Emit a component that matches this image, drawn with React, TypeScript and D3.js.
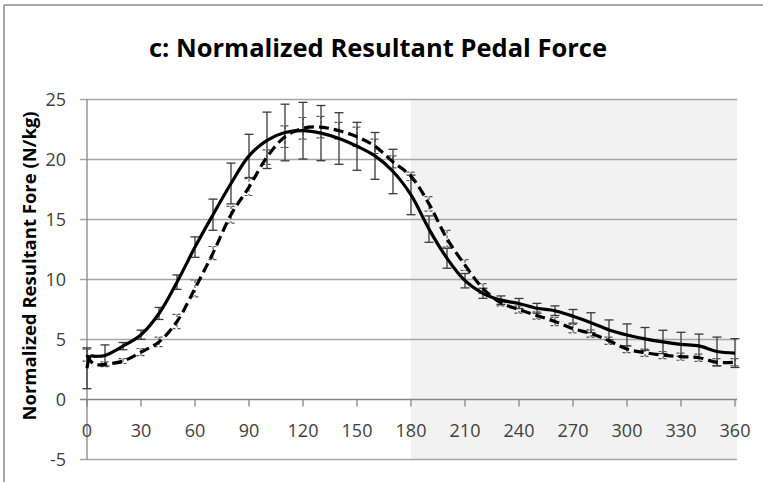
import React from "react";
import * as d3 from "d3";

const TITLE = "c: Normalized Resultant Pedal Force";
const Y_TITLE = "Normalized Resultant Fore (N/kg)";

// crank angle (deg) for line points
const angles = [0, 2, 5, 10, 20, 30, 40, 50, 60, 70, 80, 90, 100, 110, 120, 130, 140, 150, 160, 170, 180, 190, 200, 210, 220, 230, 240, 250, 260, 270, 280, 290, 300, 310, 320, 330, 340, 350, 360];
const solidMean = [2.6, 3.6, 3.6, 3.67, 4.45, 5.4, 7.17, 9.78, 12.7, 15.4, 18.0, 20.3, 21.6, 22.25, 22.4, 22.2, 21.75, 21.1, 20.3, 19.0, 17.05, 14.2, 11.77, 9.9, 8.85, 8.28, 8.0, 7.6, 7.4, 6.93, 6.4, 5.8, 5.38, 5.05, 4.8, 4.6, 4.47, 4.0, 3.87];
const dashedMean = [3.7, 3.2, 2.9, 2.94, 3.2, 3.95, 4.8, 6.5, 9.26, 12.2, 15.4, 17.7, 20.2, 21.9, 22.6, 22.7, 22.4, 21.9, 21.1, 19.8, 18.6, 16.3, 13.4, 11.2, 9.25, 8.05, 7.5, 7.0, 6.5, 5.9, 5.5, 4.9, 4.2, 3.9, 3.7, 3.57, 3.48, 3.1, 3.1];

// error bar angles and SDs
const barAngles = [0, 10, 20, 30, 40, 50, 60, 70, 80, 90, 100, 110, 120, 130, 140, 150, 160, 170, 180, 190, 200, 210, 220, 230, 240, 250, 260, 270, 280, 290, 300, 310, 320, 330, 340, 350, 360];
const solidSD = [1.7, 0.88, 0.3, 0.38, 0.5, 0.6, 0.85, 1.3, 1.7, 1.8, 2.35, 2.36, 2.36, 2.3, 2.15, 2.0, 1.95, 1.85, 1.65, 1.1, 0.83, 0.6, 0.42, 0.35, 0.42, 0.41, 0.4, 0.57, 0.83, 0.83, 0.92, 0.95, 0.97, 1.0, 0.98, 1.2, 1.2];
const dashedSD = [0.5, 0.2, 0.2, 0.3, 0.4, 0.6, 0.7, 0.55, 0.7, 0.7, 0.6, 0.9, 0.9, 0.9, 0.7, 0.8, 0.6, 0.5, 0.35, 0.6, 0.7, 0.45, 0.4, 0.25, 0.3, 0.3, 0.35, 0.35, 0.3, 0.3, 0.3, 0.3, 0.3, 0.3, 0.3, 0.3, 0.3];

const xTicks = [0, 30, 60, 90, 120, 150, 180, 210, 240, 270, 300, 330, 360];
const yTicks = [-5, 0, 5, 10, 15, 20, 25];
const shadeRange = [180, 360];

const W = 763;
const H = 482;
const FONT = "'Open Sans', 'Noto Sans', sans-serif";

export default function App() {
  const x = d3.scaleLinear().domain([0, 360]).range([87, 735]);
  const y = d3.scaleLinear().domain([-5, 25]).range([459.5, 99.5]);

  const line = d3
    .line<number>()
    .x((_, i) => x(angles[i]))
    .y((d) => y(d))
    .curve(d3.curveCatmullRom.alpha(0.5));

  const meanAt = (arr: number[], a: number) => arr[angles.indexOf(a)];

  const gridColor = "#a6a6a6";
  const axisColor = "#868686";
  const labelColor = "#404040";
  const right = x(360) + 2;

  return (
    <svg
      width={W}
      height={H}
      style={{ position: "absolute", left: 0, top: 0, background: "#fff" }}
      fontFamily={FONT}
    >
      <rect x={0} y={0} width={W} height={H} fill="#fff" />
      {/* frame */}
      <line x1={4} y1={5} x2={4} y2={H} stroke="#8a8a8a" strokeWidth={1.5} />
      <line x1={4} y1={5} x2={W} y2={5} stroke="#8a8a8a" strokeWidth={1.5} />

      {/* title */}
      <text x={378} y={57} textAnchor="middle" fontSize={25.5} fontWeight="bold" fill="#000">
        {TITLE}
      </text>

      {/* shaded region */}
      <rect
        x={x(shadeRange[0])}
        y={y(25)}
        width={right - x(shadeRange[0])}
        height={y(-5) - y(25)}
        fill="#f2f2f2"
      />

      {/* gridlines */}
      {yTicks.map((t) => (
        <line
          key={"g" + t}
          x1={80}
          x2={right}
          y1={y(t)}
          y2={y(t)}
          stroke={t === 0 ? axisColor : gridColor}
          strokeWidth={1.3}
        />
      ))}
      {/* y axis */}
      <line x1={x(0)} x2={x(0)} y1={y(25)} y2={y(-5)} stroke={axisColor} strokeWidth={1.3} />
      {/* x ticks */}
      {xTicks.map((t) => (
        <line key={"t" + t} x1={x(t)} x2={x(t)} y1={y(0)} y2={y(0) + 7} stroke={axisColor} strokeWidth={1.3} />
      ))}

      {/* y tick labels */}
      {yTicks.map((t) => (
        <text key={"yl" + t} x={66} y={y(t) + 6} textAnchor="end" fontSize={18} fill={labelColor}>
          {t}
        </text>
      ))}
      {/* x tick labels */}
      {xTicks.map((t) => (
        <text key={"xl" + t} x={x(t)} y={437} textAnchor="middle" fontSize={18} fill={labelColor}>
          {t}
        </text>
      ))}

      {/* y axis title */}
      <text
        transform={`translate(36,266) rotate(-90)`}
        textAnchor="middle"
        fontSize={18.5}
        fontWeight="bold"
        fill="#000"
      >
        {Y_TITLE}
      </text>

      {/* dashed series error bars */}
      {barAngles.map((a, i) => {
        const m = meanAt(dashedMean, a);
        const sd = dashedSD[i];
        const cx = x(a);
        return (
          <g key={"de" + a} stroke="#555" strokeWidth={1.2} strokeDasharray="3,2" fill="none">
            <line x1={cx} x2={cx} y1={y(m + sd)} y2={y(m - sd)} />
            <line x1={cx - 4.5} x2={cx + 4.5} y1={y(m + sd)} y2={y(m + sd)} />
            <line x1={cx - 4.5} x2={cx + 4.5} y1={y(m - sd)} y2={y(m - sd)} />
          </g>
        );
      })}
      {/* solid series error bars */}
      {barAngles.map((a, i) => {
        const m = meanAt(solidMean, a);
        const sd = solidSD[i];
        const cx = x(a);
        return (
          <g key={"se" + a} stroke="#3a3a3a" strokeWidth={1.3} fill="none">
            <line x1={cx} x2={cx} y1={y(m + sd)} y2={y(m - sd)} />
            <line x1={cx - 4.5} x2={cx + 4.5} y1={y(m + sd)} y2={y(m + sd)} />
            <line x1={cx - 4.5} x2={cx + 4.5} y1={y(m - sd)} y2={y(m - sd)} />
          </g>
        );
      })}

      {/* lines */}
      <path d={line(dashedMean) || ""} fill="none" stroke="#000" strokeWidth={3.2} strokeDasharray="10,5" />
      <path d={line(solidMean) || ""} fill="none" stroke="#000" strokeWidth={3.2} />
    </svg>
  );
}
